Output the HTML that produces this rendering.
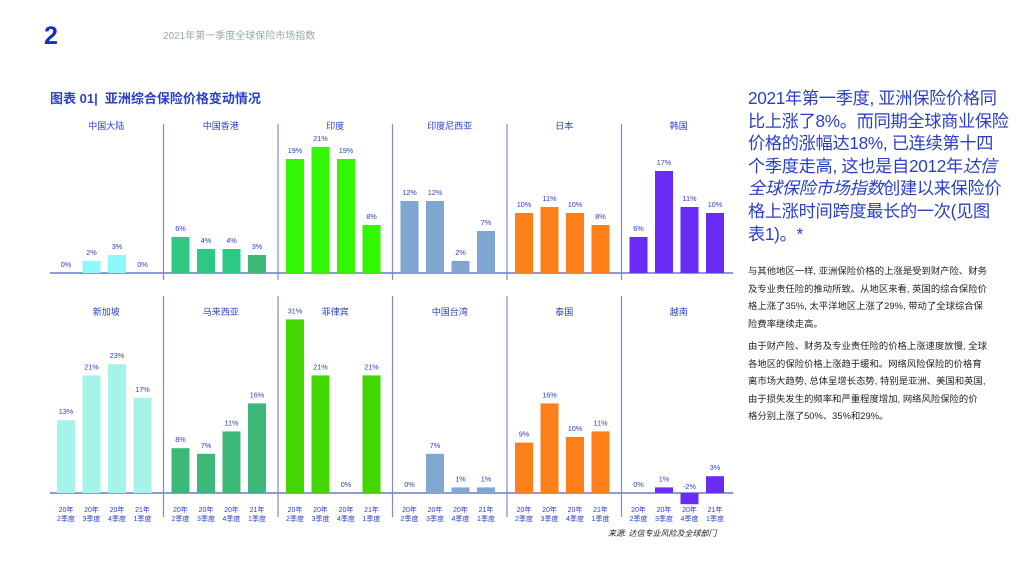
<!DOCTYPE html>
<html><head><meta charset="utf-8">
<style>
body{margin:0;width:1024px;height:576px;background:#fff;overflow:hidden;position:relative;font-family:"Liberation Sans","Noto Sans CJK SC",sans-serif}
.abs{position:absolute;white-space:nowrap}
.rt{color:#2a3fc8;font-size:17.2px;left:748px;line-height:22.6px;letter-spacing:-0.3px}
.p{color:#222;font-size:9.3px;left:748px;line-height:17.6px;letter-spacing:0.05px}
</style></head><body>
<div class="abs" style="left:44px;top:22px;font-size:25px;font-weight:bold;color:#1530c0">2</div>
<div class="abs" style="left:163px;top:27px;font-size:10px;color:#9aa">2021年第一季度全球保险市场指数</div>
<div class="abs" style="left:50px;top:88px;font-size:13px;font-weight:bold;color:#2a3fc8">图表 01|&nbsp; 亚洲综合保险价格变动情况</div>
<div class="abs rt" style="top:87px">2021年第一季度, 亚洲保险价格同<br>比上涨了8%。而同期全球商业保险<br>价格的涨幅达18%, 已连续第十四<br>个季度走高, 这也是自2012年<i>达信</i><br><i>全球保险市场指数</i>创建以来保险价<br>格上涨时间跨度最长的一次(见图<br>表1)。*</div>
<div class="abs p" style="top:263px">与其他地区一样, 亚洲保险价格的上涨是受到财产险、财务<br>及专业责任险的推动所致。从地区来看, 英国的综合保险价<br>格上涨了35%, 太平洋地区上涨了29%, 带动了全球综合保<br>险费率继续走高。</div>
<div class="abs p" style="top:338px">由于财产险、财务及专业责任险的价格上涨速度放慢, 全球<br>各地区的保险价格上涨趋于缓和。网络风险保险的价格育<br>离市场大趋势, 总体呈增长态势, 特别是亚洲、美国和英国,<br>由于损失发生的频率和严重程度增加, 网络风险保险的价<br>格分别上涨了50%、35%和29%。</div>
<div class="abs" style="left:608px;top:528px;font-size:8px;font-style:italic;color:#222">来源: 达信专业风险及全球部门</div>
<svg id="c" width="1024" height="576" style="position:absolute;left:0;top:0"></svg>
<script>
const regionsTop=["中国大陆","中国香港","印度","印度尼西亚","日本","韩国"];
const regionsBottom=["新加坡","马来西亚","菲律宾","中国台湾","泰国","越南"];
const quarters=[["20年","2季度"],["20年","3季度"],["20年","4季度"],["21年","1季度"]];
const valsTop=[[0,2,3,0],[6,4,4,3],[19,21,19,8],[12,12,2,7],[10,11,10,8],[6,17,11,10]];
const valsBottom=[[13,21,23,17],[8,7,11,16],[31,21,0,21],[0,7,1,1],[9,16,10,11],[0,1,-2,3]];
const colTop=[["#8cf8fb"],["#2ec885","#2ec885","#2ec885","#3dba78"],["#33f700"],["#7ea6d0"],["#ff7f1a"],["#6a2cf5"]];
const colBottom=[["#a4f5e8"],["#3cb878"],["#44d600"],["#80a8d0"],["#ff7f1a"],["#6a2cf5"]];
const svg=document.getElementById('c');const NS="http://www.w3.org/2000/svg";
function mk(t,a){const e=document.createElementNS(NS,t);for(const k in a)e.setAttribute(k,a[k]);svg.appendChild(e);return e;}
const x0=46,pw=114.5;
function y(v,base,s){return base-v*s;}
function row(regions,vals,cols,base,titleY,divTop,divBot,showQ,s){
  let l=mk('line',{x1:50,x2:733,y1:base,y2:base,stroke:'#4a5cc0','stroke-width':1.3});
  
  regions.forEach((r,p)=>{
    const left=x0+p*pw;
    if(p>0){const d=mk('line',{x1:left+3,x2:left+3,y1:divTop,y2:divBot,stroke:'#7f88d4','stroke-width':1.2});
      }
    const t=mk('text',{x:left+pw/2+3,y:titleY,'text-anchor':'middle','font-size':9,fill:'#2a3fc8'});t.textContent=r;
    
    vals[p].forEach((v,i)=>{
      const cx=left+20+i*25.5;const c=cols[p][i]||cols[p][0];
      const yt=Math.min(y(v,base,s),base),h=Math.abs(v*s);
      if(v!==0){const b=mk('rect',{x:cx-9,y:yt,width:18,height:h,fill:c});
        }
      const ly=v<0?base-4:y(v,base,s)-6;
      const lb=mk('text',{x:cx,y:ly,'text-anchor':'middle','font-size':7.3,fill:'#2a3fc8'});lb.textContent=v+'%';
      
      if(showQ){quarters[i].forEach((q,j)=>{const qt=mk('text',{x:cx,y:base+19+j*9,'text-anchor':'middle','font-size':7,fill:'#2a3fc8'});qt.textContent=q;
        });}
    });
  });
}
row(regionsTop,valsTop,colTop,273,129,124,280,false,6);
row(regionsBottom,valsBottom,colBottom,493,315,296,517,true,5.6);
</script>
</body></html>
